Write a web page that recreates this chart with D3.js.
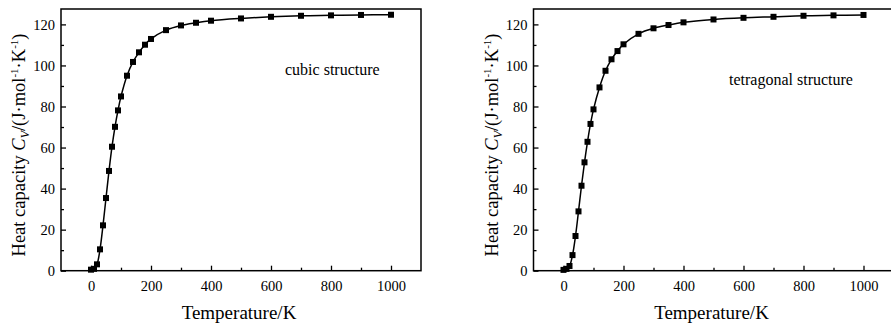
<!DOCTYPE html>
<html>
<head>
<meta charset="utf-8">
<script src="https://cdn.jsdelivr.net/npm/d3@7"></script>
<style>
  body { margin: 0; background: #fff; }
</style>
</head>
<body>
<svg width="891" height="323"></svg>
<script>
// temperature points (K), same for both structures
const temps = [0, 10, 20, 30, 40, 50, 60, 70, 80, 90, 100, 120, 140, 160, 180, 200,
               250, 300, 350, 400, 500, 600, 700, 800, 900, 1000];
// heat capacity Cv, J/(mol K)
const cubicCv = [0.5, 0.9, 3.1, 10.4, 22.1, 35.4, 48.6, 60.4, 70.1, 78.1, 84.9, 95.0, 101.7,
                 106.4, 110.1, 112.9, 117.2, 119.5, 120.8, 121.8, 122.9, 123.7, 124.2, 124.4, 124.6, 124.7];
const tetraCv = [0.4, 0.9, 2.3, 7.6, 16.9, 28.9, 41.4, 52.8, 62.8, 71.5, 78.6, 89.3, 97.4,
                 103.0, 107.0, 110.3, 115.4, 118.1, 119.7, 121.0, 122.4, 123.2, 123.7, 124.2, 124.4, 124.6];

const xMajor = [0, 200, 400, 600, 800, 1000];
const xMinor = [100, 300, 500, 700, 900];
const yMajor = [0, 20, 40, 60, 80, 100, 120];
const yMinor = [10, 30, 50, 70, 90, 110];

const panelLabels = ["cubic structure", "tetragonal structure"];

const svg = d3.select("svg");

function drawPanel(left, values, label, labelX, labelY) {
    // plot area
    const attr = { left: left, top: 9, width: 360, height: 261.7 };
    const g = svg.append("g").attr("transform", `translate(${attr.left},${attr.top})`);

    const scX = d3.scaleLinear().domain([-100, 1100]).range([0, attr.width]);
    const scY = d3.scaleLinear().domain([0, 127.5]).range([attr.height, 0]);

    // major and minor ticks, pointing inwards
    const ax = g.append("g").attr("transform", `translate(0,${attr.height})`)
        .call(d3.axisBottom(scX).tickValues(xMajor).tickFormat(d3.format("d"))
            .tickSize(-5).tickPadding(10));
    const axm = g.append("g").attr("transform", `translate(0,${attr.height})`)
        .call(d3.axisBottom(scX).tickValues(xMinor).tickSize(-3).tickFormat(""));
    const ay = g.append("g")
        .call(d3.axisLeft(scY).tickValues(yMajor).tickSize(-5).tickPadding(6));
    const aym = g.append("g")
        .call(d3.axisLeft(scY).tickValues(yMinor).tickSize(-3).tickFormat(""));
    [ax, axm, ay, aym].forEach(a => {
        a.attr("font-size", 14.5);
        a.select(".domain").remove();
        a.selectAll("line").attr("stroke", "#000").attr("stroke-width", 1.3);
        a.selectAll("text").attr("fill", "#000");
    });

    // frame
    g.append("rect").attr("x", 0).attr("y", 0)
        .attr("width", attr.width).attr("height", attr.height)
        .attr("fill", "none").attr("stroke", "#000").attr("stroke-width", 1.5);

    const pts = temps.map((t, i) => [t, values[i]]);
    const line = d3.line()
        .x(d => scX(d[0]))
        .y(d => scY(d[1]))
        .curve(d3.curveCatmullRom);
    g.append("path").attr("d", line(pts))
        .attr("fill", "none").attr("stroke", "#000").attr("stroke-width", 1.5);

    const s = 6;
    g.selectAll(".dot").data(pts).enter().append("rect")
        .attr("x", d => scX(d[0]) - s / 2)
        .attr("y", d => scY(d[1]) - s / 2)
        .attr("width", s).attr("height", s)
        .attr("fill", "#000");

    // structure label
    svg.append("text").attr("x", labelX).attr("y", labelY)
        .attr("font-size", 16).text(label);

    // axis titles
    svg.append("text")
        .attr("x", attr.left + attr.width / 2 - 2).attr("y", 319)
        .attr("text-anchor", "middle").attr("font-size", 19)
        .text("Temperature/K");

    const yt = svg.append("text")
        .attr("transform", `translate(${attr.left - 36},145) rotate(-90)`)
        .attr("text-anchor", "middle").attr("font-size", 18.5);
    yt.append("tspan").text("Heat capacity ");
    yt.append("tspan").attr("font-style", "italic").text("C");
    yt.append("tspan").attr("font-style", "italic").attr("font-size", 12).attr("dy", 4).text("V");
    yt.append("tspan").attr("dy", -4).text("/(J·mol");
    yt.append("tspan").attr("font-size", 11).attr("dy", -7).text("-1");
    yt.append("tspan").attr("dy", 7).text("·K");
    yt.append("tspan").attr("font-size", 11).attr("dy", -7).text("-1");
    yt.append("tspan").attr("dy", 7).text(")");
}

drawPanel(61, cubicCv, panelLabels[0], 285, 75);
drawPanel(533.5, tetraCv, panelLabels[1], 729, 85);

// Times-like face for every text, axes included
svg.selectAll("text").attr("font-family", "Liberation Serif");
</script>
</body>
</html>
